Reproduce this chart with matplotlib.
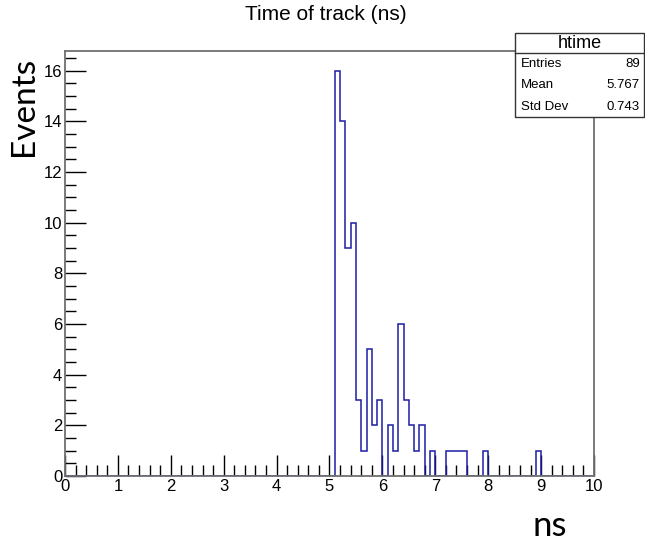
import numpy as np
import matplotlib
matplotlib.use("Agg")
import matplotlib.pyplot as plt
from matplotlib.ticker import MultipleLocator
from matplotlib.patches import Rectangle

# htime: 100 bins over 0-10 ns, non-empty region starts at 5.1 ns
x_min, x_max, n_bins = 0.0, 10.0, 100
first_bin = 5.1
counts_from_first = [16, 14, 9, 10, 3, 1, 5, 2, 3, 0,
                     2, 1, 6, 3, 2, 1, 2, 0, 1, 0,
                     0, 1, 1, 1, 1, 0, 0, 0, 1, 0,
                     0, 0, 0, 0, 0, 0, 0, 0, 1]
stat_names = ["Entries", "Mean", "Std Dev"]
stat_values = ["89", "5.767", "0.743"]

edges = np.linspace(x_min, x_max, n_bins + 1)
counts = np.zeros(n_bins)
start = int(round((first_bin - x_min) / (x_max - x_min) * n_bins))
counts[start:start + len(counts_from_first)] = counts_from_first

root_font = "Liberation Sans"
W, H = 645, 545
fig = plt.figure(figsize=(W / 100, H / 100), dpi=100)
ax = fig.add_axes([65 / W, 1 - 476 / H, (594 - 65) / W, (476 - 50.5) / H])

ax.stairs(counts, edges, color="#1c1ca6", linewidth=1.1, baseline=0, zorder=2)

ax.set_xlim(x_min, x_max)
ax.set_ylim(0, counts.max() * 1.05)
ax.xaxis.set_major_locator(MultipleLocator(1))
ax.xaxis.set_minor_locator(MultipleLocator(0.2))
ax.yaxis.set_major_locator(MultipleLocator(2))
ax.yaxis.set_minor_locator(MultipleLocator(0.5))
ax.tick_params(which="both", direction="in", top=False, right=False,
               color="black", width=1.0, labelsize=12)
ax.tick_params(which="major", length=15)
ax.tick_params(which="minor", length=8)
ax.tick_params(axis="x", pad=2)
ax.tick_params(axis="y", pad=2)
for lbl in ax.get_xticklabels() + ax.get_yticklabels():
    lbl.set_fontfamily(root_font)
for sp in ax.spines.values():
    sp.set_color("#707070")
    sp.set_linewidth(1.3)

fig.text(326 / W, 1 - 14 / H, "Time of track (ns)", ha="center", va="center",
         fontsize=15, family=root_font)

# stats box
bx0, bx1, by0, by1, bdiv = 515, 644, 33, 117, 53
fig.patches.append(Rectangle((bx0 / W, 1 - by1 / H), (bx1 - bx0) / W, (by1 - by0) / H,
                             transform=fig.transFigure, facecolor="white",
                             edgecolor="#333333", linewidth=1.0, zorder=5))
fig.add_artist(plt.Line2D([bx0 / W, bx1 / W], [1 - bdiv / H] * 2,
                          transform=fig.transFigure, color="#333333", linewidth=1.0, zorder=6))
fig.text((bx0 + bx1) / 2 / W, 1 - 43 / H, "htime", ha="center", va="center",
         fontsize=13, family=root_font, zorder=7)
for i, (name, val) in enumerate(zip(stat_names, stat_values)):
    y = 1 - (64 + i * 21.5) / H
    fig.text((bx0 + 6) / W, y, name, ha="left", va="center", fontsize=9.5,
             family=root_font, zorder=7)
    fig.text((bx1 - 4) / W, y, val, ha="right", va="center", fontsize=9.5,
             family=root_font, zorder=7)

fig.text(24 / W, 1 - 106 / H, "Events", rotation=90, ha="center", va="center",
         fontsize=24, family="Lato")
fig.text(550 / W, 1 - 526 / H, "ns", ha="center", va="center",
         fontsize=25, family="Lato")

fig.savefig("out.png", dpi=100)
